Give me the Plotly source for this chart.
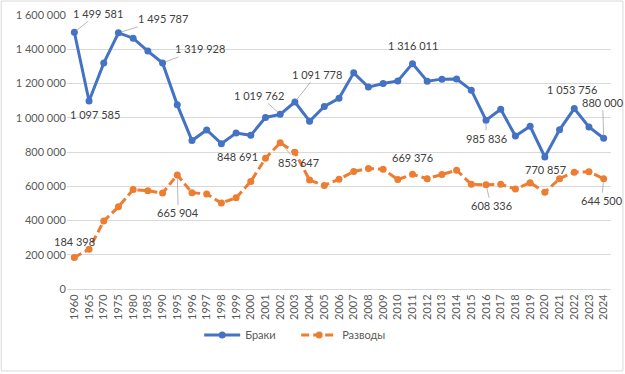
import plotly.graph_objects as go

years = ["1960", "1965", "1970", "1975", "1980", "1985", "1990"] + [str(y) for y in range(1995, 2025)]

marriages = [1499581, 1097585, 1319174, 1495787, 1464579, 1389372, 1319928,
             1075219, 866651, 928411, 848691, 911162, 897327, 1001589, 1019762,
             1091778, 979667, 1066366, 1113562, 1262500, 1179007, 1199446, 1215066,
             1316011, 1213598, 1225501, 1225985, 1161068, 985836, 1049735, 893040,
             950241, 770857, 929255, 1053756, 946060, 880000]

divorces = [184398, 232000, 396641, 480000, 580720, 574000, 559918,
            665904, 562398, 555140, 501654, 532533, 627703, 763493, 853647,
            798824, 635835, 604942, 640837, 685910, 703412, 699430, 639321,
            669376, 644101, 667971, 693730, 611646, 608336, 611428, 583933,
            621111, 564713, 644209, 682429, 685000, 644500]

# labelled points: (year, ax, ay, leader)
marr_labels = [("1960", 24, -19, True), ("1965", 6, 13, False), ("1975", 45, -14, True),
               ("1990", 37, -14, True), ("1998", 16, 13, False), ("2002", -21, -19, True),
               ("2003", 22, -28, True), ("2011", 0, -18, False), ("2016", 0, 18, True),
               ("2020", 1, 13, False), ("2022", -2, -19, False), ("2024", -1, -36, True)]
div_labels = [("1960", 0, -16, False), ("1995", 1, 38, True), ("2002", 18, 20, True),
              ("2011", 0, -17, False), ("2016", 5, 21, True), ("2024", -2, 22, True)]

BLUE = "#4472C4"
ORANGE = "#ED7D31"
FONT = "Lato"
FS = 11

fig = go.Figure()
fig.add_trace(go.Scatter(x=years, y=marriages, name="Браки", mode="lines+markers",
                         line=dict(color=BLUE, width=3),
                         marker=dict(color=BLUE, size=7, symbol="circle")))
fig.add_trace(go.Scatter(x=years, y=divorces, name="Разводы", mode="lines+markers",
                         line=dict(color=ORANGE, width=3, dash="8px,4px"),
                         marker=dict(color=ORANGE, size=7, symbol="circle")))


def fmt(v):
    return f"{v:,}".replace(",", " ")


annotations = []
for series, labels in ((marriages, marr_labels), (divorces, div_labels)):
    for yr, ax, ay, leader in labels:
        i = years.index(yr)
        v = series[i]
        if leader:
            annotations.append(dict(x=i, y=v, xref="x", yref="y", text=fmt(v), showarrow=True,
                                    arrowhead=0, arrowwidth=0.8, arrowcolor="#A6A6A6", standoff=3,
                                    ax=ax, ay=ay, font=dict(family=FONT, size=FS, color="#404040")))
        else:
            annotations.append(dict(x=i, y=v, xref="x", yref="y", text=fmt(v), showarrow=False,
                                    xshift=ax, yshift=-ay,
                                    font=dict(family=FONT, size=FS, color="#404040")))

fig.update_layout(
    width=625, height=374,
    margin=dict(l=67, r=14, t=15, b=85),
    paper_bgcolor="white", plot_bgcolor="white",
    separators=", ",
    font=dict(family=FONT, size=FS, color="#595959"),
    showlegend=True,
    legend=dict(orientation="h", x=0.243, xanchor="left", y=-0.168, yanchor="middle",
                font=dict(family=FONT, size=FS, color="#595959"), itemwidth=36,
                entrywidth=46, entrywidthmode="pixels"),
    annotations=annotations,
    shapes=[dict(type="rect", xref="paper", yref="paper", x0=-0.121, x1=1.022,
                 y0=-0.299, y1=1.051, line=dict(color="#D9D9D9", width=1))],
)
fig.update_xaxes(type="category", range=[-0.5, len(years) - 0.5], tickangle=-90,
                 showgrid=False, showline=True, linecolor="#D9D9D9", linewidth=1,
                 ticks="", automargin=False,
                 tickfont=dict(family=FONT, size=FS, color="#595959"))
fig.update_yaxes(range=[0, 1600000], tickvals=list(range(0, 1600001, 200000)),
                 tickformat=",d", showgrid=True, gridcolor="#D9D9D9", gridwidth=1,
                 zeroline=False, showline=False, ticks="", automargin=False,
                 tickfont=dict(family=FONT, size=FS, color="#595959"))

fig.write_html("out.html", config={"displayModeBar": False},
               post_script="document.body.style.margin='0px';")
